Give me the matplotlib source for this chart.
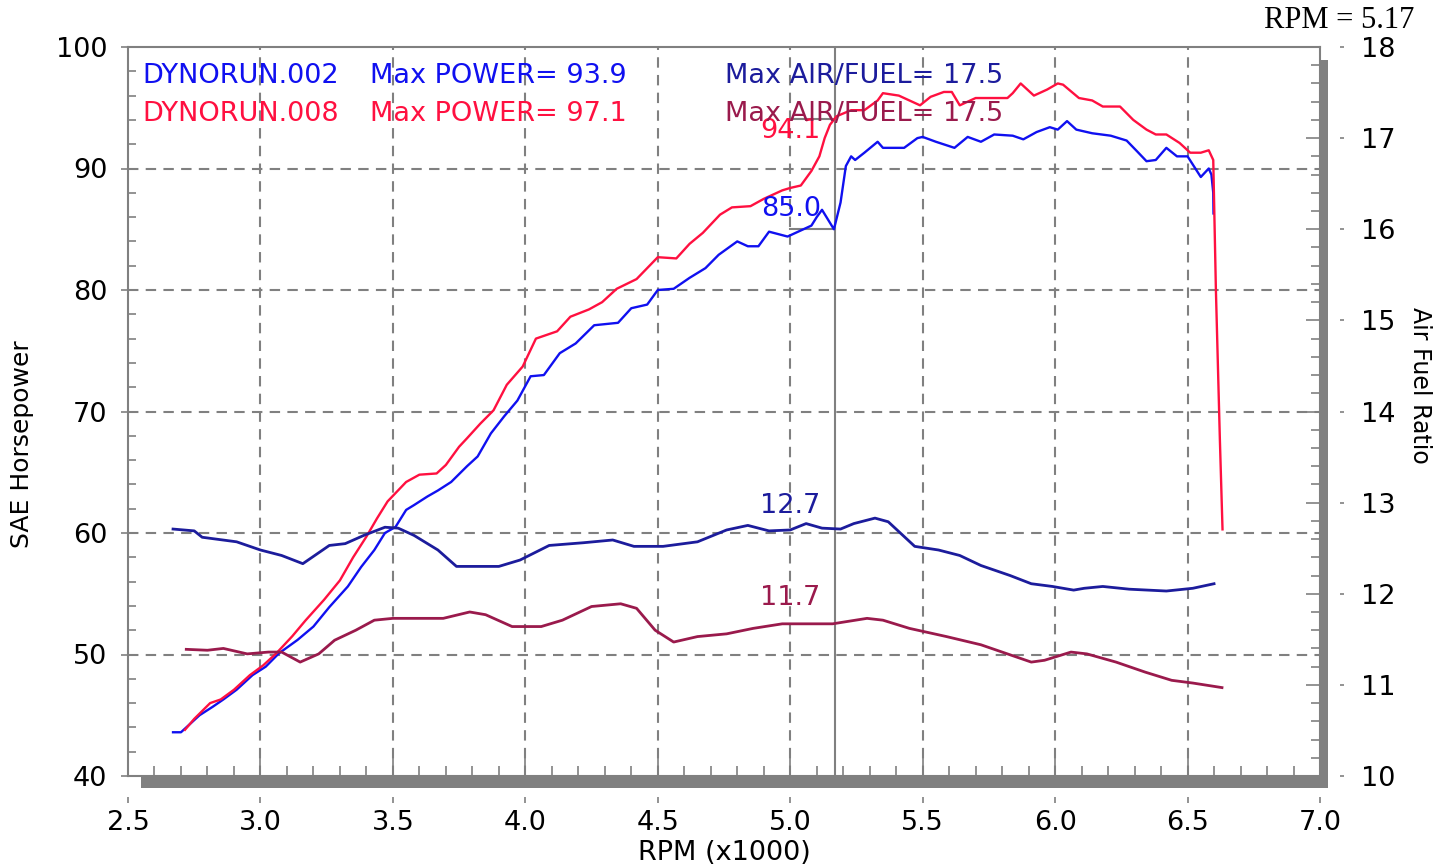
import matplotlib.pyplot as plt
from matplotlib.patches import Rectangle
from matplotlib.ticker import MultipleLocator, FormatStrFormatter

# run DYNORUN.002 (blue) power
rpm_002 = [2.67, 2.70, 2.73, 2.77, 2.82, 2.86, 2.91, 2.97, 3.02, 3.07, 3.14, 3.20,
           3.26, 3.33, 3.38, 3.43, 3.47, 3.51, 3.55, 3.58, 3.63, 3.67, 3.72, 3.78,
           3.82, 3.87, 3.92, 3.97, 4.02, 4.07, 4.13, 4.19, 4.26, 4.35, 4.40, 4.46,
           4.50, 4.56, 4.62, 4.68, 4.73, 4.80, 4.84, 4.88, 4.92, 4.99, 5.04, 5.08,
           5.10, 5.12, 5.165, 5.19, 5.21, 5.23, 5.245, 5.28, 5.33, 5.35, 5.43, 5.48,
           5.50, 5.55, 5.62, 5.67, 5.72, 5.77, 5.84, 5.88, 5.93, 5.98, 6.01, 6.045,
           6.08, 6.14, 6.21, 6.27, 6.31, 6.345, 6.38, 6.42, 6.46, 6.50, 6.55, 6.58,
           6.59, 6.597, 6.598]
hp_002 = [43.6, 43.6, 44.2, 45.0, 45.7, 46.3, 47.1, 48.3, 49.0, 50.1, 51.2, 52.3,
          53.9, 55.6, 57.2, 58.6, 60.0, 60.5, 61.9, 62.3, 63.0, 63.5, 64.2, 65.5,
          66.3, 68.2, 69.6, 70.9, 72.9, 73.0, 74.8, 75.6, 77.1, 77.3, 78.5, 78.8,
          80.0, 80.1, 81.0, 81.8, 82.9, 84.0, 83.6, 83.6, 84.8, 84.4, 84.9, 85.3,
          86.0, 86.6, 85.0, 87.2, 90.2, 91.0, 90.7, 91.3, 92.2, 91.7, 91.7, 92.5,
          92.6, 92.2, 91.7, 92.6, 92.2, 92.8, 92.7, 92.4, 93.0, 93.4, 93.2, 93.9,
          93.2, 92.9, 92.7, 92.3, 91.4, 90.6, 90.7, 91.7, 91.0, 91.0, 89.3, 90.0,
          89.5, 88.0, 86.3]

# run DYNORUN.008 (red) power
rpm_008 = [2.715, 2.75, 2.81, 2.85, 2.90, 2.96, 3.01, 3.06, 3.12, 3.17, 3.24, 3.30,
           3.35, 3.40, 3.44, 3.48, 3.55, 3.60, 3.665, 3.70, 3.75, 3.78, 3.83, 3.88,
           3.93, 3.99, 4.04, 4.12, 4.17, 4.24, 4.29, 4.345, 4.42, 4.50, 4.57, 4.62,
           4.67, 4.735, 4.78, 4.85, 4.90, 4.97, 5.00, 5.04, 5.08, 5.11, 5.13, 5.15,
           5.175, 5.23, 5.28, 5.33, 5.35, 5.41, 5.49, 5.53, 5.58, 5.61, 5.64, 5.70,
           5.82, 5.84, 5.87, 5.92, 5.97, 6.01, 6.03, 6.09, 6.14, 6.18, 6.245, 6.295,
           6.345, 6.38, 6.42, 6.47, 6.51, 6.55, 6.58, 6.597, 6.607, 6.622, 6.632]
hp_008 = [43.8, 44.7, 46.0, 46.3, 47.1, 48.3, 49.1, 50.1, 51.5, 52.8, 54.5, 56.1,
          58.0, 59.7, 61.2, 62.6, 64.2, 64.8, 64.9, 65.6, 67.1, 67.8, 69.0, 70.1,
          72.2, 73.7, 76.0, 76.6, 77.8, 78.4, 79.0, 80.1, 80.9, 82.7, 82.6, 83.8,
          84.7, 86.2, 86.8, 86.9, 87.5, 88.2, 88.4, 88.6, 89.8, 91.0, 92.5, 93.6,
          94.3, 94.8, 94.8, 95.6, 96.2, 96.0, 95.2, 95.9, 96.3, 96.3, 95.2, 95.8,
          95.8, 96.2, 97.0, 96.0, 96.5, 97.0, 96.9, 95.8, 95.6, 95.1, 95.1, 94.0,
          93.2, 92.8, 92.8, 92.1, 91.3, 91.3, 91.5, 90.7, 80.0, 67.7, 60.3]

# air/fuel ratio
afr_rpm_002 = [2.67, 2.75, 2.78, 2.91, 3.00, 3.08, 3.16, 3.26, 3.32, 3.39, 3.47, 3.52,
               3.58, 3.67, 3.74, 3.90, 3.98, 4.09, 4.22, 4.33, 4.41, 4.52, 4.65, 4.76,
               4.84, 4.92, 5.00, 5.06, 5.12, 5.19, 5.24, 5.32, 5.37, 5.47, 5.56, 5.64,
               5.72, 5.83, 5.91, 5.99, 6.07, 6.11, 6.18, 6.28, 6.42, 6.52, 6.60]
afr_002 = [12.71, 12.69, 12.62, 12.57, 12.48, 12.42, 12.33, 12.53, 12.55, 12.64, 12.73, 12.72,
           12.64, 12.48, 12.30, 12.30, 12.37, 12.53, 12.56, 12.59, 12.52, 12.52, 12.57, 12.70,
           12.75, 12.69, 12.70, 12.77, 12.72, 12.71, 12.77, 12.83, 12.79, 12.52, 12.48, 12.42,
           12.31, 12.20, 12.11, 12.08, 12.04, 12.06, 12.08, 12.05, 12.03, 12.06, 12.11]
afr_rpm_008 = [2.72, 2.80, 2.86, 2.95, 3.03, 3.08, 3.15, 3.22, 3.28, 3.36, 3.43, 3.50,
               3.69, 3.79, 3.85, 3.95, 4.06, 4.14, 4.25, 4.36, 4.42, 4.49, 4.56, 4.65,
               4.76, 4.86, 4.97, 5.16, 5.29, 5.35, 5.45, 5.59, 5.72, 5.83, 5.91, 5.96,
               6.06, 6.12, 6.23, 6.34, 6.44, 6.52, 6.63]
afr_008 = [11.39, 11.38, 11.40, 11.34, 11.36, 11.36, 11.25, 11.34, 11.49, 11.60, 11.71, 11.73,
           11.73, 11.80, 11.77, 11.64, 11.64, 11.71, 11.86, 11.89, 11.84, 11.60, 11.47, 11.53,
           11.56, 11.62, 11.67, 11.67, 11.73, 11.71, 11.62, 11.53, 11.44, 11.33, 11.25, 11.27,
           11.36, 11.34, 11.25, 11.14, 11.05, 11.02, 10.97]

cursor_rpm = 5.17
cursor_hp = [94.1, 85.0]
cursor_afr = [12.7, 11.7]
max_power = [93.9, 97.1]
max_afr = [17.5, 17.5]
run_names = ['DYNORUN.002', 'DYNORUN.008']

BLUE = '#1010f0'
RED = '#ff1040'
NAVY = '#1c1c9c'
MAROON = '#9a1a4c'
GRAY = '#808080'

plt.rcParams['font.family'] = ['DejaVu Sans']
FS = 19.5

fig = plt.figure(figsize=(14.34, 8.68), dpi=100)
W, H = 1434, 868
L, R, T, B = 128, 1320, 47, 776
ax = fig.add_axes([L / W, 1 - B / H, (R - L) / W, (B - T) / H])

# drop shadow behind plot frame
shadow = Rectangle((13 / (R - L), -12 / (B - T)), 1.0 - 5 / (R - L), 1.0 - 1 / (B - T),
                   transform=ax.transAxes, facecolor=GRAY, edgecolor='none', zorder=-1)
fig.add_artist(shadow)

ax.set_xlim(2.5, 7.0)
ax.set_ylim(40, 100)
for s in ax.spines.values():
    s.set_color(GRAY)
    s.set_linewidth(1.5)

# grid
for x in [3.0, 3.5, 4.0, 4.5, 5.0, 5.5, 6.0, 6.5]:
    ax.axvline(x, color=GRAY, lw=1.5, ls=(0, (5, 3.5)), zorder=1)
for y in [50, 60, 70, 80, 90]:
    ax.axhline(y, color=GRAY, lw=1.5, ls=(0, (5, 3.5)), zorder=1)

ax.xaxis.set_major_locator(MultipleLocator(0.5))
ax.xaxis.set_minor_locator(MultipleLocator(0.1))
ax.yaxis.set_major_locator(MultipleLocator(10))
ax.yaxis.set_minor_locator(MultipleLocator(2))
ax.tick_params(axis='x', which='major', direction='in', length=18, width=1.2,
               color=GRAY, labelbottom=False)
ax.tick_params(axis='x', which='minor', direction='in', length=7, width=1.2, color=GRAY)
ax.tick_params(axis='y', which='major', direction='inout', length=10, width=1.2,
               color=GRAY, labelsize=FS, pad=10)
ax.tick_params(axis='y', which='minor', direction='in', length=6, width=1.2, color=GRAY)

# outside x ticks and labels
secx = ax.secondary_xaxis(-21 / (B - T))
secx.spines['bottom'].set_visible(False)
secx.xaxis.set_major_locator(MultipleLocator(0.5))
secx.xaxis.set_major_formatter(FormatStrFormatter('%.1f'))
secx.tick_params(direction='out', length=4, width=1.2, color=GRAY, labelsize=FS, pad=5)

# power curves
ax.plot(rpm_002, hp_002, color=BLUE, lw=1.7, zorder=3)
ax.plot(rpm_008, hp_008, color=RED, lw=1.7, zorder=3)

# AFR axis
ax2 = ax.twinx()
ax2.set_ylim(10, 18)
for s in ax2.spines.values():
    s.set_visible(False)
ax2.yaxis.set_major_locator(MultipleLocator(1))
ax2.yaxis.set_minor_locator(MultipleLocator(0.2))
ax2.tick_params(axis='y', which='major', direction='in', length=10, width=1.2,
                color=GRAY, labelright=False)
ax2.tick_params(axis='y', which='minor', direction='in', length=6.5, width=1.2, color=GRAY)
ax2.plot(afr_rpm_002, afr_002, color=NAVY, lw=2.0, zorder=3)
ax2.plot(afr_rpm_008, afr_008, color=MAROON, lw=2.0, zorder=3)

secy = ax2.secondary_yaxis(1 + 20 / (R - L))
secy.spines['right'].set_visible(False)
secy.yaxis.set_major_locator(MultipleLocator(1))
secy.tick_params(direction='out', length=3, width=1.2, color=GRAY, labelsize=FS, pad=12)

# cursor line and readouts
ax.axvline(cursor_rpm, color=GRAY, lw=1.5, zorder=2)
ax.plot([5.0, cursor_rpm], [cursor_hp[0]] * 2, color=GRAY, lw=1.5, zorder=2)
ax.plot([5.0, cursor_rpm], [cursor_hp[1]] * 2, color=GRAY, lw=1.5, zorder=2)
ax.text(5.115, cursor_hp[0] - 1.0, f'{cursor_hp[0]:.1f}', color=RED, fontsize=FS,
        ha='right', va='center', zorder=4)
ax.text(5.115, cursor_hp[1] + 1.7, f'{cursor_hp[1]:.1f}', color=BLUE, fontsize=FS,
        ha='right', va='center', zorder=4)
ax2.text(5.115, cursor_afr[0] + 0.26, f'{cursor_afr[0]:.1f}', color=NAVY, fontsize=FS,
         ha='right', va='center', zorder=4)
ax2.text(5.115, cursor_afr[1] + 0.25, f'{cursor_afr[1]:.1f}', color=MAROON, fontsize=FS,
         ha='right', va='center', zorder=4)

# run legend rows
rows = [(97.6, BLUE, NAVY), (94.5, RED, MAROON)]
for i, (yy, c_pow, c_afr) in enumerate(rows):
    ax.text(2.553, yy, run_names[i], color=c_pow, fontsize=FS, va='center')
    ax.text(3.414, yy, f'Max POWER= {max_power[i]:.1f}', color=c_pow, fontsize=FS, va='center')
    ax.text(4.754, yy, f'Max AIR/FUEL= {max_afr[i]:.1f}', color=c_afr, fontsize=FS,
            va='center', zorder=4)

# axis titles
fig.text(22 / W, 1 - 444 / H, 'SAE Horsepower', rotation=90, ha='center', va='center',
         fontsize=18)
fig.text(1420 / W, 1 - 385 / H, 'Air Fuel Ratio', rotation=-90, ha='center', va='center',
         fontsize=17)
fig.text(724 / W, 1 - 853 / H, 'RPM (x1000)', ha='center', va='center', fontsize=FS)
fig.text(1339 / W, 1 - 21 / H, f'RPM = {cursor_rpm:.2f}', ha='center', va='center',
         fontsize=22, family=['Liberation Serif', 'DejaVu Serif'])

fig.savefig('out.png', dpi=100)
